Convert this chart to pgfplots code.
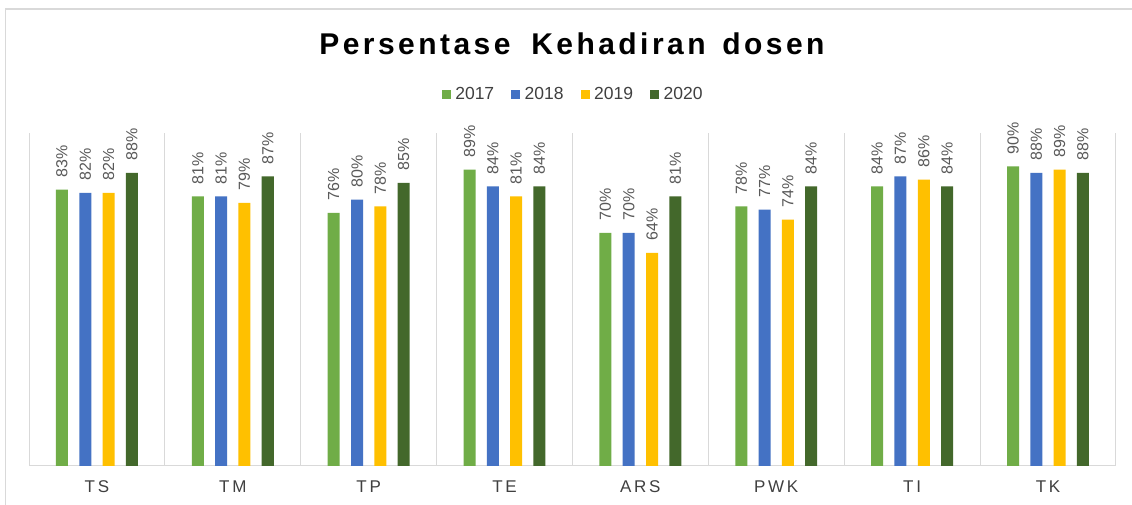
\documentclass[border=0pt]{standalone}
\usepackage{fontspec}
\setmainfont{Liberation Sans}
\newfontfamily\titlefont[LetterSpace=11.5]{Liberation Sans}
\newfontfamily\catfont[LetterSpace=16]{Liberation Sans}
\usepackage{pgfplots}
\usepackage{pgfplotstable}
\pgfplotsset{compat=1.18}
\definecolor{cA}{HTML}{70AD47}
\definecolor{cB}{HTML}{4472C4}
\definecolor{cC}{HTML}{FFC000}
\definecolor{cD}{HTML}{43682B}
\definecolor{gridc}{HTML}{D9D9D9}
\definecolor{txt}{HTML}{404040}
\definecolor{lbl}{HTML}{595959}
\pgfplotstableread{
x a b c d
0 83 82 82 88
1 81 81 79 87
2 76 80 78 85
3 89 84 81 84
4 70 70 64 81
5 78 77 74 84
6 84 87 86 84
7 90 88 89 88
}\data
\begin{document}
\begin{tikzpicture}[x=1pt,y=1pt]
% axis south-west corner is the origin; picture spans (-29,-39) to (1103,466)
\useasboundingbox (-29,-39) rectangle (1103,466);
\clip (-29,-39) rectangle (1103,466);
\fill[white] (-29,-39) rectangle (1103,466);
\draw[gridc, line width=1.5pt] (-23.5,457) rectangle (1120,-50);
\node[anchor=base, inner sep=0pt, font=\titlefont\bfseries\fontsize{30}{30}\selectfont] at (543,411) {Persentase\hspace{9pt} Kehadiran\hspace{5pt} dosen};
\begin{axis}[
  scale only axis, width=1087pt, height=333pt,
  ybar=11.3pt, bar width=12pt,
  ymin=0, ymax=100, xmin=-0.5, xmax=7.5,
  axis x line*=bottom, axis y line=none,
  x axis line style={gridc, line width=1pt},
  xtick={0,...,7},
  xticklabels={TS,TM,TP,TE,ARS,PWK,TI,TK},
  major tick length=0pt,
  minor xtick={-0.5,0.5,...,7.5},
  minor tick length=0pt,
  xminorgrids=true,
  minor grid style={gridc, line width=1pt},
  xticklabel style={anchor=base, yshift=-26.5pt, font=\catfont\fontsize{17}{17}\selectfont, text=txt},
  /pgf/number format/assume math mode=true,
  nodes near coords={\hspace*{12pt}\pgfmathprintnumber{\pgfplotspointmeta}\%},
  every node near coord/.append style={rotate=90, anchor=west, inner sep=0pt, font=\fontsize{16}{16}\selectfont, text=lbl},
  legend columns=4,
  legend image code/.code={\fill[#1] (0pt,-4.5pt) rectangle (9pt,4.5pt);},
  legend style={draw=none, fill=none, at={(0.5018,1.117)}, anchor=center,
    font=\fontsize{17.5}{17.5}\selectfont, text=txt,
    /tikz/every even column/.append style={column sep=12.5pt},
    nodes={inner xsep=4.5pt, inner ysep=0pt}},
]
\addplot[fill=cA, draw=none] table[x=x, y=a] {\data};
\addplot[fill=cB, draw=none] table[x=x, y=b] {\data};
\addplot[fill=cC, draw=none] table[x=x, y=c] {\data};
\addplot[fill=cD, draw=none] table[x=x, y=d] {\data};
\legend{2017,2018,2019,2020}
\end{axis}
\end{tikzpicture}
\end{document}
